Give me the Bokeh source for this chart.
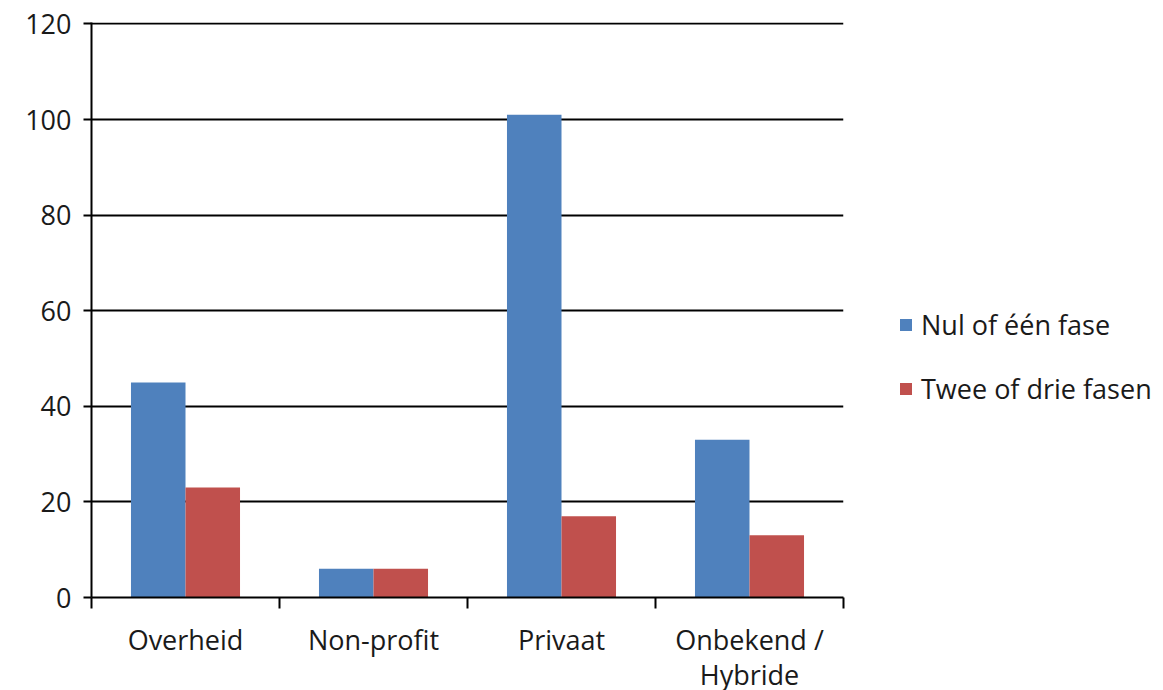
from bokeh.plotting import figure
from bokeh.models import (ColumnDataSource, FixedTicker, Legend, LegendItem,
                          Range1d)
from bokeh.embed import file_html
from bokeh.resources import INLINE

# Data
categories = ["Overheid", "Non-profit", "Privaat", "Onbekend /\nHybride"]
nul_of_een = [45, 6, 101, 33]
twee_of_drie = [23, 6, 17, 13]
series_names = ["Nul of één fase", "Twee of drie fasen"]
y_ticks = [0, 20, 40, 60, 80, 100, 120]

BLUE = "#4F81BD"
RED = "#C0504D"
FONT = "Open Sans"
TEXT = "#1a1a1a"
FS = "27px"

centers = [i + 0.5 for i in range(len(categories))]
bar_w = 0.29

src = ColumnDataSource(dict(
    x_blue=[c - bar_w / 2 for c in centers],
    x_red=[c + bar_w / 2 for c in centers],
    blue=nul_of_een,
    red=twee_of_drie,
))

p = figure(width=1163, height=690, frame_width=752, frame_height=575,
           min_border_left=91, min_border_top=22, min_border_bottom=93,
           min_border_right=0,
           x_range=Range1d(0, len(categories)), y_range=Range1d(0, 120.3),
           output_backend="svg", toolbar_location=None)
p.outline_line_color = None
p.background_fill_color = "white"
p.border_fill_color = "white"

r_blue = p.vbar(x="x_blue", top="blue", width=bar_w, bottom=0, source=src,
                fill_color=BLUE, line_color=None)
r_red = p.vbar(x="x_red", top="red", width=bar_w, bottom=0, source=src,
               fill_color=RED, line_color=None)

# x axis: labels centered under groups, tick marks at group boundaries
xa = p.xaxis[0]
xa.ticker = FixedTicker(ticks=centers,
                        minor_ticks=list(range(len(categories) + 1)))
xa.major_label_overrides = {c: lab for c, lab in zip(centers, categories)}
xa.major_tick_out = 0
xa.major_tick_in = 0
xa.minor_tick_out = 11
xa.minor_tick_in = 0
xa.minor_tick_line_color = "black"
xa.minor_tick_line_width = 2
xa.axis_line_color = "black"
xa.axis_line_width = 2
xa.major_label_standoff = 12
xa.major_label_text_font = FONT
xa.major_label_text_font_size = FS
xa.major_label_text_color = TEXT
xa.major_label_text_line_height = 0.95

ya = p.yaxis[0]
ya.ticker = FixedTicker(ticks=y_ticks)
ya.major_tick_out = 8
ya.major_tick_in = 0
ya.minor_tick_out = 0
ya.minor_tick_in = 0
ya.major_tick_line_color = "black"
ya.major_tick_line_width = 2
ya.axis_line_color = "black"
ya.axis_line_width = 2
ya.major_label_standoff = 12
ya.major_label_text_font = FONT
ya.major_label_text_font_size = FS
ya.major_label_text_color = TEXT

p.xgrid.visible = False
p.ygrid.ticker = FixedTicker(ticks=y_ticks)
p.ygrid.grid_line_color = "black"
p.ygrid.grid_line_width = 2
p.ygrid.level = "image"

legend = Legend(items=[LegendItem(label=series_names[0], renderers=[r_blue]),
                       LegendItem(label=series_names[1], renderers=[r_red])],
                location=(55, 190), orientation="vertical",
                glyph_width=15, glyph_height=15, label_standoff=8,
                spacing=27, padding=0, margin=0,
                label_text_font=FONT, label_text_font_size=FS,
                label_text_color=TEXT,
                border_line_color=None, background_fill_alpha=0)
p.add_layout(legend, "right")

open("out.html", "w").write(file_html(p, INLINE))
